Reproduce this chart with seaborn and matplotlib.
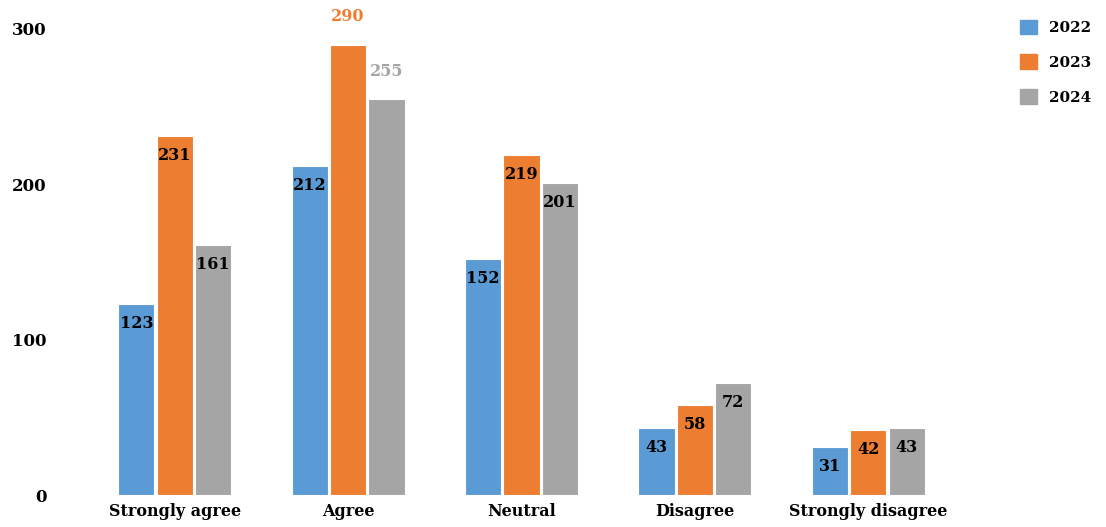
import pandas as pd
import matplotlib.pyplot as plt
import seaborn as sns

# data
categories = ["Strongly agree", "Agree", "Neutral", "Disagree", "Strongly disagree"]
years = ["2022", "2023", "2024"]
values_2022 = [123, 212, 152, 43, 31]
values_2023 = [231, 290, 219, 58, 42]
values_2024 = [161, 255, 201, 72, 43]
yticks = [0, 100, 200, 300]

# labels drawn above the bar instead of inside it
outside = [("Agree", "2023"), ("Agree", "2024")]

colors = ["#5B9BD5", "#ED7D31", "#A5A5A5"]

rows = []
for year, vals in zip(years, [values_2022, values_2023, values_2024]):
    for cat, v in zip(categories, vals):
        rows.append({"Response": cat, "Year": year, "Count": v})
df = pd.DataFrame(rows)

sns.set_style("white")
plt.rcParams['font.family'] = ['DejaVu Serif']
plt.rcParams['font.weight'] = 'bold'
plt.rcParams['text.color'] = 'black'
plt.rcParams['xtick.color'] = 'black'
plt.rcParams['ytick.color'] = 'black'

fig = plt.figure(figsize=(11.06, 5.27), dpi=100)
ax = fig.add_axes([88/1106, 32/527, 867/1106, 466/527])

sns.barplot(data=df, x="Response", y="Count", hue="Year", order=categories,
            hue_order=years, palette=colors, width=0.665, gap=0.06,
            edgecolor="white", linewidth=0.8, saturation=1, ax=ax)

ax.set_ylim(0, 300)
ax.set_xlim(-0.5, len(categories) - 0.5)
ax.set_yticks(yticks)
ax.set_xlabel("")
ax.set_ylabel("")
sns.despine(ax=ax, left=True, bottom=True)
ax.tick_params(axis="y", length=0, pad=30, labelsize=12, labelcolor="black")
ax.tick_params(axis="x", length=0, pad=6, labelsize=11.5, labelcolor="black")
for lbl in ax.get_xticklabels() + ax.get_yticklabels():
    lbl.set_fontweight("bold")

# value labels
for year, color, cont in zip(years, colors, ax.containers):
    for cat, bar in zip(categories, cont.patches):
        h = bar.get_height()
        xc = bar.get_x() + bar.get_width() / 2
        if (cat, year) in outside:
            ax.annotate(f"{h:.0f}", xy=(xc, h), xytext=(0, 20), textcoords="offset points",
                        ha="center", va="center", color=color, fontsize=11.5,
                        fontweight="bold", annotation_clip=False)
        else:
            ax.annotate(f"{h:.0f}", xy=(xc, h), xytext=(0, -14), textcoords="offset points",
                        ha="center", va="center", color="black", fontsize=11.5,
                        fontweight="bold")

ax.legend_.remove()
handles = [plt.Rectangle((0, 0), 1, 1, color=c) for c in colors]
fig.legend(handles, years, loc="upper left", bbox_to_anchor=(1006/1106, 1 - 6/527),
           frameon=False, handlelength=1.1, handleheight=1.1, labelspacing=1.25,
           prop={"weight": "bold", "size": 11})

fig.savefig("out.png", dpi=100)
